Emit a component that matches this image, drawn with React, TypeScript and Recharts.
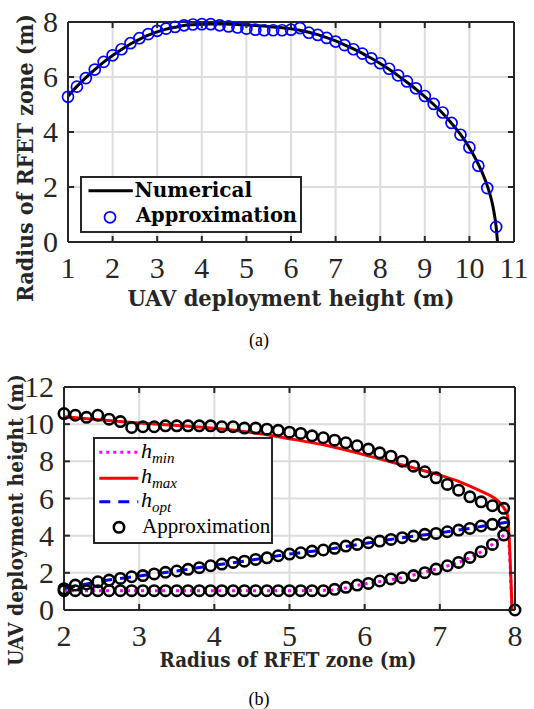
import React from 'react';
import { ComposedChart, Line, Scatter, XAxis, YAxis, CartesianGrid, ReferenceLine } from 'recharts';

// (a) radius of the RFET zone against UAV height
const heightApprox = [
  1.0, 1.2, 1.4, 1.6, 1.8, 2.0, 2.2, 2.4, 2.6, 2.8, 3.0, 3.2, 3.4, 3.6, 3.8, 4.0, 4.2,
  4.4, 4.6, 4.8, 5.0, 5.2, 5.4, 5.6, 5.8, 6.0, 6.2, 6.4, 6.6, 6.8, 7.0, 7.2, 7.4, 7.6,
  7.8, 8.0, 8.2, 8.4, 8.6, 8.8, 9.0, 9.2, 9.4, 9.6, 9.8, 10.0, 10.2, 10.4, 10.6,
];
const radiusApprox = [
  5.28, 5.65, 5.96, 6.27, 6.55, 6.79, 7.01, 7.23, 7.41, 7.56, 7.68, 7.76, 7.82, 7.88, 7.91,
  7.92, 7.92, 7.88, 7.84, 7.8, 7.76, 7.72, 7.7, 7.7, 7.7, 7.72, 7.78, 7.61, 7.53, 7.42,
  7.29, 7.16, 7.01, 6.85, 6.68, 6.5, 6.3, 6.06, 5.84, 5.59, 5.31, 5.02, 4.71, 4.33, 3.9,
  3.44, 2.77, 1.96, 0.55,
];
const heightNum = [
  1.0, 1.2, 1.4, 1.6, 1.8, 2.0, 2.2, 2.4, 2.6, 2.8, 3.0, 3.2, 3.4, 3.6, 3.8, 4.0, 4.2,
  4.4, 4.6, 4.8, 5.0, 5.2, 5.4, 5.6, 5.8, 6.0, 6.2, 6.4, 6.6, 6.8, 7.0, 7.2, 7.4, 7.6,
  7.8, 8.0, 8.2, 8.4, 8.6, 8.8, 9.0, 9.2, 9.4, 9.6, 9.8, 10.0, 10.2, 10.4, 10.5, 10.55,
  10.6, 10.63,
];
const radiusNum = [
  5.3, 5.66, 5.98, 6.27, 6.54, 6.78, 7.0, 7.2, 7.37, 7.52, 7.64, 7.74, 7.81, 7.87, 7.9,
  7.92, 7.93, 7.93, 7.92, 7.91, 7.89, 7.87, 7.85, 7.82, 7.79, 7.75, 7.7, 7.63, 7.54, 7.43,
  7.31, 7.17, 7.02, 6.86, 6.68, 6.49, 6.28, 6.05, 5.81, 5.56, 5.29, 5.0, 4.68, 4.32, 3.91,
  3.43, 2.83, 2.05, 1.5, 1.1, 0.55, 0,
];

// (b) UAV heights against radius of the RFET zone
const radiusGrid = [
  2.0, 2.15, 2.3, 2.45, 2.6, 2.75, 2.9, 3.05, 3.2, 3.35, 3.5, 3.65, 3.8, 3.95, 4.1, 4.25,
  4.4, 4.55, 4.7, 4.85, 5.0, 5.15, 5.3, 5.45, 5.6, 5.75, 5.9, 6.05, 6.2, 6.35, 6.5, 6.65,
  6.8, 6.95, 7.1, 7.25, 7.4, 7.55, 7.7, 7.85,
];
const hMaxApprox = [
  10.57, 10.48, 10.37, 10.48, 10.27, 10.14, 9.82, 9.86, 9.86, 9.91, 9.91, 9.91, 9.91, 9.91,
  9.86, 9.86, 9.79, 9.79, 9.73, 9.67, 9.57, 9.5, 9.37, 9.27, 9.14, 9.0, 8.84, 8.66, 8.46,
  8.28, 8.01, 7.74, 7.44, 7.11, 6.76, 6.45, 6.09, 5.82, 5.61, 5.47,
];
const hOptApprox = [
  1.15, 1.34, 1.4, 1.52, 1.61, 1.7, 1.79, 1.85, 1.94, 2.03, 2.1, 2.19, 2.28, 2.38, 2.47,
  2.56, 2.63, 2.72, 2.81, 2.92, 3.01, 3.08, 3.17, 3.23, 3.32, 3.44, 3.53, 3.62, 3.71, 3.8,
  3.89, 3.98, 4.07, 4.12, 4.21, 4.3, 4.39, 4.52, 4.61, 4.69,
];
const hMinApprox = [
  1.04, 1.04, 1.04, 1.04, 1.04, 1.04, 1.04, 1.04, 1.04, 1.04, 1.04, 1.04, 1.04, 1.04, 1.04,
  1.04, 1.04, 1.04, 1.04, 1.04, 1.04, 1.04, 1.04, 1.04, 1.11, 1.22, 1.34, 1.43, 1.56, 1.67,
  1.74, 1.85, 2.01, 2.2, 2.38, 2.56, 2.83, 3.14, 3.53, 4.03,
];
const radiusEnd = [8.0];
const hEnd = [0];

const radiusLine = [2.0, 2.5, 3.0, 3.5, 4.0, 4.5, 5.0, 5.5, 6.0, 6.5, 7.0, 7.25, 7.5, 7.65, 7.75, 7.85, 7.9, 7.96];
const hMinLine = [1.04, 1.04, 1.04, 1.04, 1.04, 1.04, 1.04, 1.06, 1.4, 1.74, 2.26, 2.56, 3.02, 3.38, 3.7, 4.03, 4.2, 0];
const hMaxLine = [10.4, 10.22, 10.06, 9.93, 9.78, 9.55, 9.22, 8.85, 8.35, 7.8, 7.26, 6.92, 6.48, 6.2, 5.95, 5.5, 5.1, 0];
const hOptLine = [1.15, 1.55, 1.83, 2.1, 2.41, 2.69, 3.01, 3.26, 3.58, 3.89, 4.15, 4.3, 4.46, 4.56, 4.62, 4.69, 4.72, null];

const ticksAX = [1, 2, 3, 4, 5, 6, 7, 8, 9, 10, 11];
const ticksAY = [0, 2, 4, 6, 8];
const ticksBX = [2, 3, 4, 5, 6, 7, 8];
const ticksBY = [0, 2, 4, 6, 8, 10, 12];

const zip = (xs: number[], ys: (number | null)[]) =>
  xs.map((x, i) => ({ x, y: ys[i] })).filter((p) => p.y !== null);

const AXIS = '#262626';
const GRID = '#dcdcdc';
const TICK_LEN = 6;
const NUM_FONT = "'Liberation Serif', serif";
const BOLD_FONT = "'DejaVu Serif', serif";

const numStyle = { fontFamily: NUM_FONT, fontSize: 30 };
const boldStyle = (size: number) => ({ fontFamily: BOLD_FONT, fontWeight: 700, fontSize: size });

// inward ticks on both sides of the box, like matlab
const BottomTick = ({ x, y, payload, plotH }: any) => (
  <g>
    <line x1={x} y1={y} x2={x} y2={y - TICK_LEN} stroke={AXIS} strokeWidth={2} />
    <line x1={x} y1={y - plotH} x2={x} y2={y - plotH + TICK_LEN} stroke={AXIS} strokeWidth={2} />
    <text x={x} y={y + 36} textAnchor="middle" style={numStyle} fill={AXIS}>
      {payload.value}
    </text>
  </g>
);
const LeftTick = ({ x, y, payload, plotW }: any) => (
  <g>
    <line x1={x} y1={y} x2={x + TICK_LEN} y2={y} stroke={AXIS} strokeWidth={2} />
    <line x1={x + plotW} y1={y} x2={x + plotW - TICK_LEN} y2={y} stroke={AXIS} strokeWidth={2} />
    <text x={x - 10} y={y + 10} textAnchor="end" style={numStyle} fill={AXIS}>
      {payload.value}
    </text>
  </g>
);

const blueRing = (p: any) => (
  <circle cx={p.cx} cy={p.cy} r={5.5} fill="none" stroke="#0000ff" strokeWidth={1.7} />
);
const blackRing = (p: any) => (
  <circle cx={p.cx} cy={p.cy} r={5.2} fill="none" stroke="#000000" strokeWidth={2.6} />
);

const axisLine = { stroke: AXIS, strokeWidth: 2 };

function frame(ticksX: number[], ticksY: number[], xDomain: number[], yDomain: number[],
  yWidth: number, xHeight: number, plotW: number, plotH: number) {
  return [
    <CartesianGrid key="grid" stroke={GRID} strokeWidth={2} />,
    <XAxis key="xb" dataKey="x" type="number" domain={xDomain} ticks={ticksX} interval={0}
      height={xHeight} tickSize={0} tickMargin={0} tickLine={false} axisLine={axisLine}
      tick={<BottomTick plotH={plotH} />} />,
    <YAxis key="yl" dataKey="y" type="number" domain={yDomain} ticks={ticksY} interval={0}
      width={yWidth} tickSize={0} tickMargin={0} tickLine={false} axisLine={axisLine}
      tick={<LeftTick plotW={plotW} />} />,
    // top and right sides of the box
    <ReferenceLine key="top" y={yDomain[1]} stroke={AXIS} strokeWidth={2} />,
    <ReferenceLine key="right" x={xDomain[1]} stroke={AXIS} strokeWidth={2} />,
  ];
}

export default function App() {
  const numData = zip(heightNum, radiusNum);
  const approxA = zip(heightApprox, radiusApprox);
  const approxB = [
    ...zip(radiusGrid, hMaxApprox),
    ...zip(radiusGrid, hOptApprox),
    ...zip(radiusGrid, hMinApprox),
    ...zip(radiusEnd, hEnd),
  ];

  return (
    <div style={{ position: 'absolute', left: 0, top: 0, width: 534, height: 709, background: '#fff' }}>
      <div style={{ position: 'absolute', left: 0, top: 0 }}>
        <ComposedChart width={534} height={350} margin={{ top: 22, right: 20, bottom: 0, left: 0 }}>
          {frame(ticksAX, ticksAY, [1, 11], [0, 8], 68, 108, 446, 220)}
          <Line data={numData} dataKey="y" type="monotone" stroke="#000" strokeWidth={3} dot={false} isAnimationActive={false} />
          <Scatter data={approxA} shape={blueRing} isAnimationActive={false} />
        </ComposedChart>
      </div>
      <div style={{ position: 'absolute', left: 0, top: 360 }}>
        <ComposedChart width={534} height={349} margin={{ top: 27, right: 19, bottom: 0, left: 0 }}>
          {frame(ticksBX, ticksBY, [2, 8], [0, 12], 64, 99, 451, 223)}
          <Line data={zip(radiusLine, hMinLine)} dataKey="y" type="monotone" stroke="#ff00ff" strokeWidth={3}
            strokeDasharray="3 4" dot={false} isAnimationActive={false} />
          <Line data={zip(radiusLine, hMaxLine)} dataKey="y" type="monotone" stroke="#ff0000" strokeWidth={3}
            dot={false} isAnimationActive={false} />
          <Line data={zip(radiusLine, hOptLine)} dataKey="y" type="monotone" stroke="#0000ff" strokeWidth={3}
            strokeDasharray="11 8" dot={false} isAnimationActive={false} />
          <Scatter data={approxB} shape={blackRing} isAnimationActive={false} />
        </ComposedChart>
      </div>

      <svg width={534} height={709} style={{ position: 'absolute', left: 0, top: 0, pointerEvents: 'none' }}>
        {/* axis titles */}
        <text x={291} y={306} textAnchor="middle" style={boldStyle(21.5)}
          fill={AXIS} textLength={327} lengthAdjust="spacingAndGlyphs">UAV deployment height (m)</text>
        <text transform="translate(33,158) rotate(-90)" textAnchor="middle" style={boldStyle(22)}
          fill={AXIS} textLength={288} lengthAdjust="spacingAndGlyphs">Radius of RFET zone (m)</text>
        <text x={288} y={667} textAnchor="middle" style={boldStyle(19.5)}
          fill={AXIS} textLength={257} lengthAdjust="spacingAndGlyphs">Radius of RFET zone (m)</text>
        <text transform="translate(23,520) rotate(-90)" textAnchor="middle" style={boldStyle(19.5)}
          fill={AXIS} textLength={292} lengthAdjust="spacingAndGlyphs">UAV deployment height (m)</text>

        {/* captions */}
        <text x={259} y={346} textAnchor="middle" style={{ fontFamily: NUM_FONT, fontSize: 18 }} fill="#000">(a)</text>
        <text x={259} y={705} textAnchor="middle" style={{ fontFamily: NUM_FONT, fontSize: 18 }} fill="#000">(b)</text>

        {/* legend (a) */}
        <rect x={81} y={177} width={220} height={55} fill="#fff" stroke={AXIS} strokeWidth={2} />
        <line x1={88.5} y1={190.7} x2={132.8} y2={190.7} stroke="#000" strokeWidth={3} />
        <text x={134.5} y={197} style={boldStyle(20)} fill="#000">Numerical</text>
        <circle cx={110} cy={217.3} r={5.5} fill="none" stroke="#0000ff" strokeWidth={1.7} />
        <text x={136} y={222} style={boldStyle(20)} fill="#000"
          textLength={161} lengthAdjust="spacingAndGlyphs">Approximation</text>

        {/* legend (b) */}
        <rect x={94} y={438} width={178} height={105} fill="#fff" stroke={AXIS} strokeWidth={2} />
        <line x1={99.3} y1={452.3} x2={138.3} y2={452.3} stroke="#ff00ff" strokeWidth={3} strokeDasharray="3 4" />
        <line x1={99.3} y1={478.3} x2={138.3} y2={478.3} stroke="#ff0000" strokeWidth={3} />
        <line x1={99.3} y1={501.7} x2={138.3} y2={501.7} stroke="#0000ff" strokeWidth={3} strokeDasharray="11 8" />
        <circle cx={119} cy={527.3} r={5.2} fill="none" stroke="#000" strokeWidth={2.6} />
        <text x={141} y={458} style={{ fontFamily: NUM_FONT, fontStyle: 'italic', fontSize: 22 }} fill="#000">
          h<tspan style={{ fontSize: 15 }} dy={5}>min</tspan>
        </text>
        <text x={141} y={483} style={{ fontFamily: NUM_FONT, fontStyle: 'italic', fontSize: 22 }} fill="#000">
          h<tspan style={{ fontSize: 15 }} dy={5}>max</tspan>
        </text>
        <text x={141} y={507} style={{ fontFamily: NUM_FONT, fontStyle: 'italic', fontSize: 22 }} fill="#000">
          h<tspan style={{ fontSize: 15 }} dy={5}>opt</tspan>
        </text>
        <text x={142} y={533} style={{ fontFamily: NUM_FONT, fontSize: 21 }} fill="#000">Approximation</text>
      </svg>
    </div>
  );
}
